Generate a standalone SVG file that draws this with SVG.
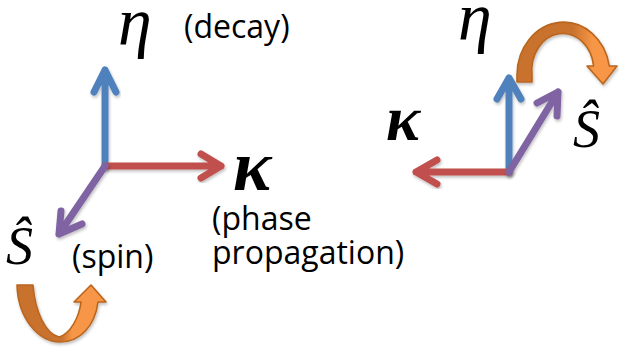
<svg xmlns="http://www.w3.org/2000/svg" width="619" height="352" viewBox="0 0 619 352">
<style>
.ax{fill:none;stroke-width:7;stroke-linecap:round;stroke-linejoin:round;filter:url(#sh)}
.blue{stroke:#4F81BD}.red{stroke:#C0504D}.purple{stroke:#8064A2}
.lbl{font-family:"Open Sans","Liberation Sans",sans-serif;font-size:32px;fill:#000}
.sym{font-family:"Liberation Serif","Times New Roman",serif;font-style:italic;fill:#000}
.kap{font-weight:bold}
.turn{stroke:#B9661F;stroke-width:1.6;stroke-linejoin:round;filter:url(#sh)}
</style>
<defs>
<filter id="sh" x="-20%" y="-20%" width="140%" height="140%">
<feDropShadow dx="1" dy="2" stdDeviation="1.5" flood-color="#000" flood-opacity="0.25"/>
</filter>
<linearGradient id="gL" gradientUnits="userSpaceOnUse" x1="17" y1="0" x2="106" y2="0">
<stop offset="0" stop-color="#C8722E"/><stop offset="0.5" stop-color="#C8722E"/><stop offset="0.62" stop-color="#F79646"/><stop offset="1" stop-color="#F79646"/>
</linearGradient>
<linearGradient id="gR" gradientUnits="userSpaceOnUse" x1="517" y1="0" x2="618" y2="0">
<stop offset="0" stop-color="#C8722E"/><stop offset="0.55" stop-color="#C8722E"/><stop offset="0.75" stop-color="#F79646"/><stop offset="1" stop-color="#F79646"/>
</linearGradient>
</defs>
<rect width="619" height="352" fill="#fff"/>

<g id="connectors">
<path class="ax blue" d="M105,166 L105,70 M94,92 L105,70 L116,92"/>
<path class="ax red" d="M105,166 L221,166 M201,154 L221,166 L201,178"/>
<path class="ax purple" d="M105,166 L59,234 M61,211 L59,234 L82,224"/>
<path class="ax blue" d="M509,172 L509,78 M497,99 L509,78 L521,99"/>
<path class="ax red" d="M509,172 L416,172 M437,160 L416,172 L437,184"/>
<path class="ax purple" d="M509,172 L558,92 M537,103 L558,92 L557,116"/>
</g>

<g id="spin-left">
<path class="turn" fill="url(#gL)" d="M17,285 L33,285 C35,312 46,334 59,337 C70,334 79,318 81,302 L74,302 L91,285 L106,302 L98,302 C95,326 80,342 60,342 C38,342 18,318 17,285 Z"/>
</g>
<g id="spin-right">
<path class="turn" fill="url(#gR)" d="M517,82 L517,75 A46.5,53 0 0 1 609.3,66 L617,66 L603,84 L587,66 L593.6,66 A31,37 0 0 0 532,75 L532,82 Z"/>
</g>

<g id="eta-left"><text class="sym" x="118" y="45" font-size="68">η</text></g>
<g id="decay"><text class="lbl" x="184" y="38" font-size="31">(decay)</text></g>
<g id="kappa-left"><text class="sym kap" x="233" y="190" font-size="72">κ</text></g>
<g id="phase"><text class="lbl" x="212" y="230">(phase</text><text class="lbl" x="212" y="264">propagation)</text></g>
<g id="s-left"><text class="sym" x="6" y="264" font-size="54">Ŝ</text></g>
<g id="spin-label"><text class="lbl" x="72" y="268">(spin)</text></g>

<g id="eta-right"><text class="sym" x="458" y="40" font-size="68">η</text></g>
<g id="kappa-right"><text class="sym kap" x="386" y="140" font-size="64">κ</text></g>
<g id="s-right"><text class="sym" x="573" y="147" font-size="54">Ŝ</text></g>
</svg>
